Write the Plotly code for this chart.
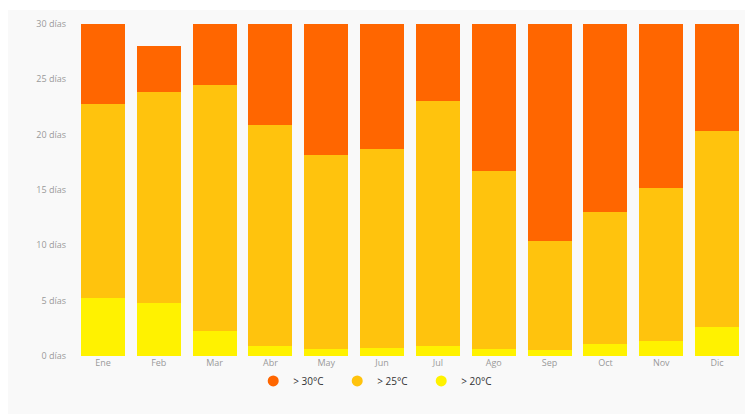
import plotly.graph_objects as go

months = ["Ene", "Feb", "Mar", "Abr", "May", "Jun", "Jul", "Ago", "Sep", "Oct", "Nov", "Dic"]
# days per category (stacked segments)
days_20 = [5.2, 4.8, 2.3, 0.9, 0.6, 0.7, 0.9, 0.6, 0.5, 1.1, 1.4, 2.6]
days_25 = [17.6, 19.1, 22.2, 20.0, 17.6, 18.0, 22.1, 16.1, 9.9, 11.9, 13.8, 17.7]
days_30 = [7.2, 4.1, 5.5, 9.1, 11.8, 11.3, 7.0, 13.3, 19.6, 17.0, 14.8, 9.7]
tick_vals = [0, 5, 10, 15, 20, 25, 30]
tick_text = [f"{v} días" for v in tick_vals]

c30, c25, c20 = "#FF6600", "#FFC30D", "#FFF200"

fig = go.Figure()
fig.add_bar(x=months, y=days_20, marker_color=c20, marker_line_width=0, showlegend=False)
fig.add_bar(x=months, y=days_25, marker_color=c25, marker_line_width=0, showlegend=False)
fig.add_bar(x=months, y=days_30, marker_color=c30, marker_line_width=0, showlegend=False)
for name, col in [("> 30°C", c30), ("> 25°C", c25), ("> 20°C", c20)]:
    fig.add_scatter(x=[None], y=[None], mode="markers", name=name,
                    marker=dict(symbol="circle", size=11, color=col))

fig.update_layout(
    width=745, height=414,
    barmode="stack", bargap=0.21,
    margin=dict(l=75, r=0, t=24, b=58),
    paper_bgcolor="#f9f9f9", plot_bgcolor="#f9f9f9",
    font=dict(family="Open Sans, sans-serif", size=9, color="#999999"),
    legend=dict(orientation="h", traceorder="normal", x=0.266, xanchor="left", y=-0.075, yanchor="middle",
                font=dict(size=10, color="#333333"), entrywidth=39, entrywidthmode="pixels",
                itemwidth=30, bgcolor="rgba(0,0,0,0)"),
    xaxis=dict(showgrid=False, zeroline=False, ticks="", showline=False,
               tickfont=dict(size=9, color="#999999")),
    yaxis=dict(range=[0, 30], tickvals=tick_vals, ticktext=tick_text, showgrid=False,
               zeroline=False, showline=False, ticks="", ticklabelstandoff=8,
               tickfont=dict(size=9, color="#999999")),
    shapes=[
        dict(type="rect", xref="paper", yref="paper", x0=-0.2, x1=1.1,
             y0=1 + 14 / 332, y1=1 + 30 / 332, fillcolor="white", line_width=0, layer="below"),
        dict(type="rect", xref="paper", yref="paper", x0=-0.2, x1=-67 / 670,
             y0=-0.3, y1=1.2, fillcolor="white", line_width=0, layer="below"),
    ],
)

fig.write_html("out.html")
